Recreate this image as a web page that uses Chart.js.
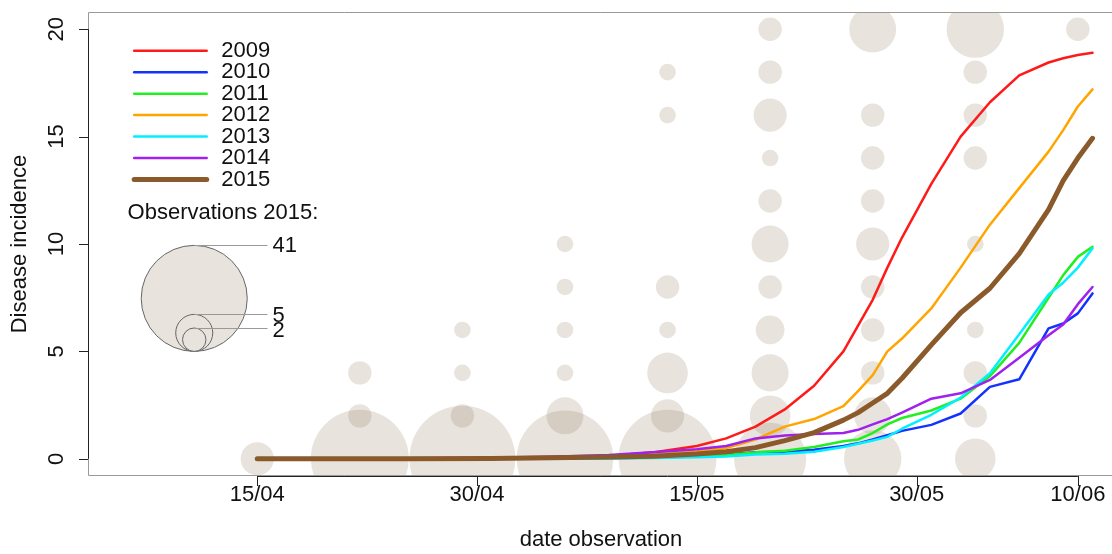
<!DOCTYPE html>
<html>
<head>
<meta charset="utf-8">
<script src="https://cdn.jsdelivr.net/npm/chart.js@4"></script>
<style>
  html, body { margin: 0; padding: 0; background: #fff; }
  canvas { display: block; }
</style>
</head>
<body>
<canvas id="myChart" width="1112" height="554"></canvas>
<script>
// days counted from 15/04
const days = [0, 10, 16, 20, 24, 27, 30, 32, 34, 36, 38, 40, 41, 42, 43, 44, 46, 48, 50, 52, 54, 55, 56, 57];
const inc2009 = [0, 0, 0.01, 0.04, 0.13, 0.3, 0.6, 0.95, 1.5, 2.3, 3.4, 5.0, 6.2, 7.4, 8.9, 10.3, 12.8, 15.0, 16.6, 17.85, 18.45, 18.65, 18.8, 18.9];
const inc2010 = [0, 0, 0, 0.01, 0.03, 0.06, 0.12, 0.2, 0.3, 0.33, 0.42, 0.6, 0.72, 0.9, 1.1, 1.3, 1.58, 2.11, 3.35, 3.7, 6.07, 6.3, 6.77, 7.7];
const inc2011 = [0, 0, 0.01, 0.02, 0.04, 0.07, 0.12, 0.18, 0.3, 0.38, 0.55, 0.82, 0.9, 1.2, 1.6, 1.9, 2.25, 2.8, 3.85, 5.4, 7.5, 8.55, 9.4, 9.87];
const inc2012 = [0, 0, 0.01, 0.04, 0.1, 0.2, 0.35, 0.5, 0.9, 1.5, 1.85, 2.45, 3.15, 3.9, 5.0, 5.6, 7.0, 8.9, 10.9, 12.6, 14.3, 15.3, 16.4, 17.2];
const inc2013 = [0, 0, 0, 0.01, 0.02, 0.04, 0.07, 0.11, 0.2, 0.24, 0.33, 0.55, 0.7, 0.85, 1.02, 1.4, 2.05, 2.85, 3.98, 5.8, 7.65, 8.2, 8.9, 9.8];
const inc2014 = [0, 0.01, 0.05, 0.1, 0.18, 0.3, 0.45, 0.6, 0.95, 1.08, 1.16, 1.2, 1.35, 1.6, 1.85, 2.15, 2.8, 3.05, 3.67, 4.7, 5.75, 6.25, 7.2, 8.0];
const inc2015 = [0, 0, 0.02, 0.05, 0.08, 0.12, 0.22, 0.33, 0.52, 0.85, 1.22, 1.8, 2.15, 2.6, 3.05, 3.75, 5.3, 6.8, 7.94, 9.55, 11.6, 12.95, 14.0, 14.92];

const years = ["2009", "2010", "2011", "2012", "2013", "2014", "2015"];
const series = [inc2009, inc2010, inc2011, inc2012, inc2013, inc2014, inc2015];
const colors = ["#ff1a1a", "#1432ff", "#22ee22", "#ffa500", "#00f0ff", "#a020f0", "#8b5a2b"];

// observations 2015: weekly dates, incidence levels, number of fields per level
const obsDays = [0, 7, 14, 21, 28, 35, 42, 49, 56];
const obsLevels = [0, 2, 4, 6, 8, 10, 12, 14, 16, 18, 20];
const obsCounts = [
    [4, 0, 0, 0, 0, 0, 0, 0, 0, 0, 0],
    [35, 2, 2, 0, 0, 0, 0, 0, 0, 0, 0],
    [41, 2, 1, 1, 0, 0, 0, 0, 0, 0, 0],
    [34, 5, 1, 1, 1, 1, 0, 0, 0, 0, 0],
    [35, 4, 6, 1, 2, 0, 0, 0, 1, 1, 0],
    [19, 6, 5, 3, 2, 5, 2, 1, 4, 2, 2],
    [12, 5, 2, 2, 2, 4, 2, 2, 2, 0, 8],
    [6, 2, 2, 1, 0, 1, 0, 2, 2, 2, 12],
    [0, 0, 0, 0, 0, 0, 0, 0, 0, 0, 2]
];
const legendCounts = [41, 5, 2];

const xTicks = [0, 15, 30, 45, 56];
const xTickLabels = ["15/04", "30/04", "15/05", "30/05", "10/06"];
const yTicks = [0, 5, 10, 15, 20];

const bubbleFill = "rgba(139, 115, 85, 0.2)";
const legendFill = "rgb(232, 227, 221)";
const font = "'Liberation Sans', Arial, sans-serif";
const radiusFor = n => 8.28 * Math.sqrt(n);

const bubbles = [];
obsDays.forEach((d, i) => {
    obsLevels.forEach((lv, j) => {
        const n = obsCounts[i][j];
        if (n > 0) bubbles.push({x: d, y: lv, r: radiusFor(n)});
    });
});

const lineSets = years.map((yr, i) => ({
    type: "line",
    label: yr,
    data: days.map((d, k) => ({x: d, y: series[i][k]})),
    borderColor: colors[i],
    borderWidth: yr === "2015" ? 5 : 2.5,
    borderCapStyle: "round",
    borderJoinStyle: "round",
    pointRadius: 0,
    tension: 0,
    fill: false,
    order: years.length - i
}));

const rStyle = {
    id: "rStyle",
    afterDraw(chart) {
        const ctx = chart.ctx;
        const xs = chart.scales.x, ys = chart.scales.y;
        const a = chart.chartArea;
        ctx.save();

        // box
        ctx.strokeStyle = "#999";
        ctx.lineWidth = 1;
        ctx.beginPath();
        ctx.moveTo(a.right + 5, a.top + 0.5);
        ctx.lineTo(a.left + 0.5, a.top + 0.5);
        ctx.lineTo(a.left + 0.5, a.bottom - 0.5);
        ctx.lineTo(a.right + 5, a.bottom - 0.5);
        ctx.stroke();

        // x axis
        ctx.strokeStyle = "#222";
        ctx.beginPath();
        ctx.moveTo(xs.getPixelForValue(xTicks[0]), a.bottom + 0.5);
        ctx.lineTo(xs.getPixelForValue(xTicks[xTicks.length - 1]), a.bottom + 0.5);
        xTicks.forEach(t => {
            const px = Math.round(xs.getPixelForValue(t)) + 0.5;
            ctx.moveTo(px, a.bottom);
            ctx.lineTo(px, a.bottom + 10);
        });
        // y axis
        ctx.moveTo(a.left + 0.5, ys.getPixelForValue(0));
        ctx.lineTo(a.left + 0.5, ys.getPixelForValue(20));
        yTicks.forEach(t => {
            const py = Math.round(ys.getPixelForValue(t)) + 0.5;
            ctx.moveTo(a.left, py);
            ctx.lineTo(a.left - 9, py);
        });
        ctx.stroke();

        ctx.fillStyle = "#111";
        ctx.font = "22px " + font;
        ctx.textAlign = "center";
        ctx.textBaseline = "middle";
        xTicks.forEach((t, i) => {
            ctx.fillText(xTickLabels[i], xs.getPixelForValue(t), 495);
        });
        ctx.fillText("date observation", 601, 540);
        yTicks.forEach(t => {
            ctx.save();
            ctx.translate(57, ys.getPixelForValue(t));
            ctx.rotate(-Math.PI / 2);
            ctx.fillText(String(t), 0, 0);
            ctx.restore();
        });
        ctx.save();
        ctx.translate(20, (a.top + a.bottom) / 2);
        ctx.rotate(-Math.PI / 2);
        ctx.fillText("Disease incidence", 0, 0);
        ctx.restore();

        // line legend
        ctx.textAlign = "left";
        years.forEach((yr, i) => {
            const py = ys.getPixelForValue(19 - i);
            ctx.strokeStyle = colors[i];
            ctx.lineWidth = yr === "2015" ? 5 : 2.5;
            ctx.lineCap = "round";
            ctx.beginPath();
            ctx.moveTo(xs.getPixelForValue(-8.4), py);
            ctx.lineTo(xs.getPixelForValue(-3.45), py);
            ctx.stroke();
            ctx.fillStyle = "#111";
            ctx.fillText(yr, xs.getPixelForValue(-2.45), py);
        });
        ctx.fillText("Observations 2015:", xs.getPixelForValue(-8.85), ys.getPixelForValue(11.45));

        // bubble size legend
        const cx = xs.getPixelForValue(-4.3);
        const base = ys.getPixelForValue(5);
        const lineEnd = xs.getPixelForValue(0.7);
        ctx.lineWidth = 1;
        ctx.lineCap = "butt";
        legendCounts.forEach(n => {
            const r = radiusFor(n);
            ctx.beginPath();
            ctx.arc(cx, base - r, r, 0, 2 * Math.PI);
            ctx.fillStyle = legendFill;
            ctx.fill();
            ctx.strokeStyle = "#666";
            ctx.stroke();
        });
        legendCounts.forEach((n, i) => {
            const top = base - 2 * radiusFor(n);
            ctx.strokeStyle = "#999";
            ctx.beginPath();
            ctx.moveTo(cx, Math.round(top) + 0.5);
            ctx.lineTo(lineEnd, Math.round(top) + 0.5);
            ctx.stroke();
            ctx.fillStyle = "#111";
            ctx.fillText(String(n), lineEnd + 5, top + (i === 0 ? 1 : i === 1 ? 2 : 3));
        });
        ctx.restore();
    }
};

const ctx = document.getElementById("myChart");
const myChart = new Chart(ctx, {
    type: "scatter",
    data: {
        datasets: lineSets.concat([{
            type: "bubble",
            label: "Observations 2015",
            data: bubbles,
            backgroundColor: bubbleFill,
            borderWidth: 0,
            hoverBorderWidth: 0,
            clip: 0,
            order: 20
        }])
    },
    options: {
        responsive: false,
        animation: false,
        devicePixelRatio: 1,
        layout: {autoPadding: false, padding: {left: 88, top: 12, right: 0, bottom: 78}},
        scales: {
            x: {type: "linear", min: -11.55, max: 58.33, display: false},
            y: {type: "linear", min: -0.8, max: 20.8, display: false}
        },
        plugins: {legend: {display: false}, tooltip: {enabled: false}}
    },
    plugins: [rStyle]
});
</script>
</body>
</html>
